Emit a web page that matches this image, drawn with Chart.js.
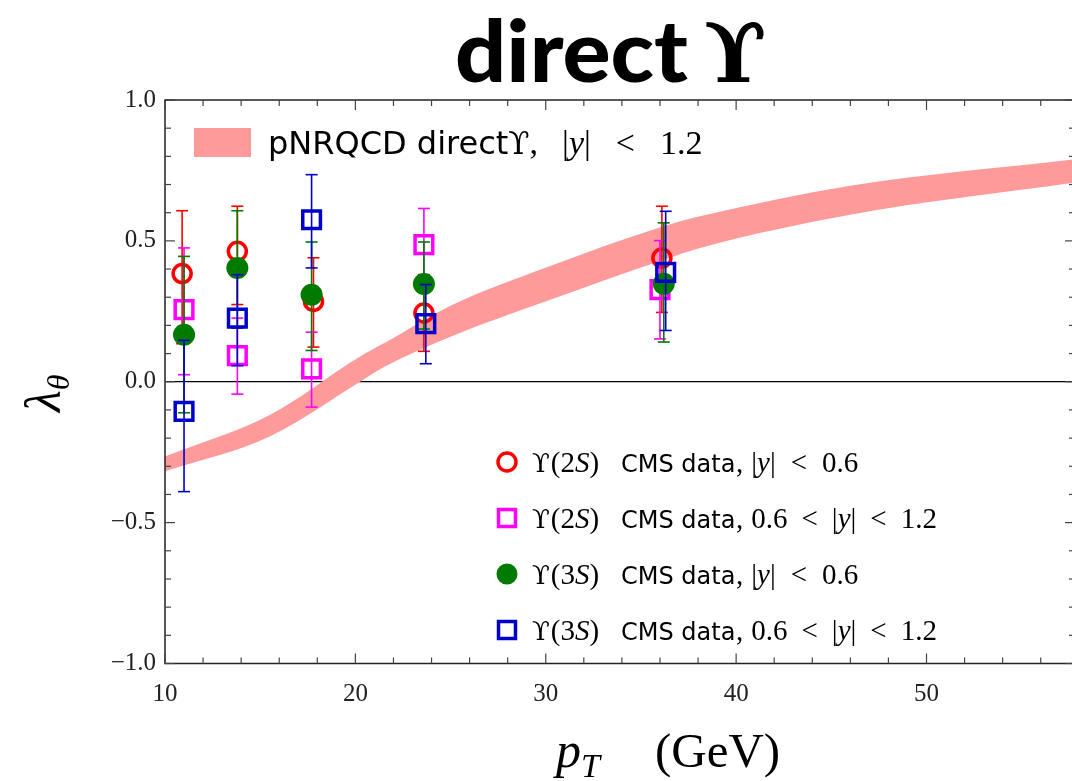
<!DOCTYPE html>
<html>
<head>
<meta charset="utf-8">
<title>direct Upsilon polarization</title>
<script src="https://cdn.jsdelivr.net/npm/chart.js@4.4.1/dist/chart.umd.min.js"></script>
<style>
  html, body { margin: 0; padding: 0; overflow: hidden; background: #fff; }
  #wrap { position: relative; width: 1100px; height: 781px; }
</style>
</head>
<body>
<div id="wrap"><canvas id="lambdaChart"></canvas></div>
<script>
// pNRQCD prediction band (lower / upper edge of lambda_theta vs pT)
const bandPt   = [10, 15.5, 20.25, 21.55, 25.0, 30.2, 36.2, 38.1, 46.0, 57.8];
const bandLow  = [-0.318, -0.194, 0.0, 0.054, 0.16, 0.29, 0.433, 0.475, 0.593, 0.707];
const bandHigh = [-0.265, -0.118, 0.09, 0.138, 0.27, 0.41, 0.552, 0.587, 0.696, 0.790];

// CMS Upsilon(2S), |y| < 0.6
const u2sCentralPt   = [10.9, 13.8, 17.8, 23.6, 36.1];
const u2sCentralLam  = [0.384, 0.463, 0.285, 0.244, 0.439];
const u2sCentralLow  = [0.135, 0.274, 0.123, 0.108, 0.246];
const u2sCentralHigh = [0.607, 0.623, 0.440, 0.380, 0.623];

// CMS Upsilon(2S), 0.6 < |y| < 1.2
const u2sForwardPt   = [11.0, 13.8, 17.7, 23.6, 36.0];
const u2sForwardLam  = [0.256, 0.093, 0.046, 0.487, 0.327];
const u2sForwardLow  = [0.025, -0.044, -0.090, 0.360, 0.152];
const u2sForwardHigh = [0.475, 0.226, 0.176, 0.615, 0.501];

// CMS Upsilon(3S), |y| < 0.6
const u3sCentralPt   = [11.0, 13.8, 17.7, 23.6, 36.2];
const u3sCentralLam  = [0.167, 0.404, 0.309, 0.347, 0.348];
const u3sCentralLow  = [-0.110, 0.190, 0.111, 0.187, 0.141];
const u3sCentralHigh = [0.445, 0.607, 0.496, 0.496, 0.564];

// CMS Upsilon(3S), 0.6 < |y| < 1.2
const u3sForwardPt   = [11.0, 13.8, 17.7, 23.7, 36.3];
const u3sForwardLam  = [-0.105, 0.226, 0.575, 0.206, 0.388];
const u3sForwardLow  = [-0.390, 0.057, 0.404, 0.064, 0.182];
const u3sForwardHigh = [0.147, 0.380, 0.735, 0.345, 0.605];

const yTickValues = [-1, -0.5, 0, 0.5, 1];
const xTickValues = [10, 20, 30, 40, 50];

const SERIF = '"Liberation Serif", "DejaVu Serif", serif';
const UPS = '"DejaVu Serif", serif';
const SANS = '"DejaVu Sans", "Noto Sans", sans-serif';
const BAND_COLOR = '#ff9a9a';

const toPoints = (xs, ys) => xs.map((x, i) => ({ x: x, y: ys[i] }));

const series = [
  { label: 'u2s-central', pt: u2sCentralPt, lam: u2sCentralLam, lo: u2sCentralLow, hi: u2sCentralHigh,
    color: '#ff0000', style: 'circle', radius: 9, width: 3.5, fill: 'rgba(0,0,0,0)', order: 4 },
  { label: 'u2s-forward', pt: u2sForwardPt, lam: u2sForwardLam, lo: u2sForwardLow, hi: u2sForwardHigh,
    color: '#ff00ff', style: 'rect', radius: 12.5, width: 3.5, fill: 'rgba(0,0,0,0)', order: 3 },
  { label: 'u3s-central', pt: u3sCentralPt, lam: u3sCentralLam, lo: u3sCentralLow, hi: u3sCentralHigh,
    color: '#007a00', style: 'circle', radius: 11, width: 0, fill: '#007a00', order: 2 },
  { label: 'u3s-forward', pt: u3sForwardPt, lam: u3sForwardLam, lo: u3sForwardLow, hi: u3sForwardHigh,
    color: '#0000cc', style: 'rect', radius: 12.5, width: 3.5, fill: 'rgba(0,0,0,0)', order: 1 }
];

const datasets = [
  {
    label: 'band-low', type: 'line', data: toPoints(bandPt, bandLow),
    borderWidth: 0, borderColor: 'rgba(0,0,0,0)', pointRadius: 0, fill: false,
    cubicInterpolationMode: 'monotone', order: 6
  },
  {
    label: 'band-high', type: 'line', data: toPoints(bandPt, bandHigh),
    borderWidth: 0, borderColor: 'rgba(0,0,0,0)', pointRadius: 0, fill: '-1',
    backgroundColor: BAND_COLOR, cubicInterpolationMode: 'monotone', order: 5
  }
].concat(series.map(s => ({
  label: s.label, type: 'scatter', data: toPoints(s.pt, s.lam),
  pointStyle: s.style, pointRadius: s.radius, pointBorderWidth: s.width,
  pointBorderColor: s.color, pointBackgroundColor: s.fill,
  errLow: s.lo, errHigh: s.hi, errColor: s.color, order: s.order
})));

function strokeLine(ctx, x1, y1, x2, y2) {
  ctx.beginPath();
  ctx.moveTo(x1, y1);
  ctx.lineTo(x2, y2);
  ctx.stroke();
}

// draws a run of text pieces with different fonts, returns end x
function drawRich(ctx, parts, x, y) {
  let cx = x;
  parts.forEach(p => {
    ctx.font = p.f;
    if (p.gap) cx += p.gap;
    ctx.fillText(p.t, cx, y + (p.dy || 0));
    cx += ctx.measureText(p.t).width;
  });
  return cx;
}

// vertical error bars with caps, painted just before each scatter dataset
const errorBars = {
  id: 'errorBars',
  beforeDatasetDraw(chart, args) {
    const ds = chart.data.datasets[args.index];
    if (!ds.errLow) return;
    const { ctx, scales: { x, y } } = chart;
    ctx.save();
    ctx.strokeStyle = ds.errColor;
    ctx.lineWidth = 1.6;
    ds.data.forEach((p, i) => {
      const px = x.getPixelForValue(p.x);
      const lo = y.getPixelForValue(ds.errLow[i]);
      const hi = y.getPixelForValue(ds.errHigh[i]);
      strokeLine(ctx, px, lo, px, hi);
      strokeLine(ctx, px - 6, lo, px + 6, lo);
      strokeLine(ctx, px - 6, hi, px + 6, hi);
    });
    ctx.restore();
  }
};

// box around the plot with inward major/minor ticks on all sides
const frameTicks = {
  id: 'frameTicks',
  afterDatasetsDraw(chart) {
    const { ctx, chartArea: a, scales: { x, y } } = chart;
    ctx.save();
    ctx.strokeStyle = '#222';
    ctx.lineWidth = 1.5;
    ctx.strokeRect(a.left, a.top, a.right - a.left, a.bottom - a.top);
    ctx.lineWidth = 1.2;
    ctx.strokeStyle = '#444';
    for (let v = 10; v <= x.max; v += 2) {
      const px = x.getPixelForValue(v);
      const len = v % 10 === 0 ? 10 : 6;
      strokeLine(ctx, px, a.bottom, px, a.bottom - len);
      strokeLine(ctx, px, a.top, px, a.top + len);
    }
    for (let k = -10; k <= 10; k++) {
      const py = y.getPixelForValue(k / 10);
      const len = k % 5 === 0 ? 10 : 6;
      strokeLine(ctx, a.left, py, a.left + len, py);
      strokeLine(ctx, a.right, py, a.right - len, py);
    }
    ctx.restore();
  }
};

// title, axis titles and both legends
const annotations = {
  id: 'annotations',
  afterDraw(chart) {
    const ctx = chart.ctx;
    ctx.save();
    ctx.fillStyle = '#000';
    ctx.textBaseline = 'alphabetic';
    ctx.textAlign = 'left';

    // title: heavy sans word stretched to its slot, then the upsilon
    ctx.save();
    ctx.font = `900 86px Lato, ${SANS}`;
    const wordWidth = ctx.measureText('direct').width;
    ctx.translate(455, 82);
    ctx.scale(233 / wordWidth, 1);
    ctx.fillText('direct', 0, 0);
    ctx.restore();
    ctx.font = `bold 82px ${UPS}`;
    ctx.fillText('\u03D2', 704, 82);

    // x axis title
    drawRich(ctx, [
      { t: 'p', f: `italic 50px ${SERIF}` },
      { t: 'T', f: `italic 34px ${SERIF}`, dy: 10 }
    ], 556, 767);
    ctx.font = `49px ${SERIF}`;
    ctx.fillText('(GeV)', 655, 767);

    // y axis title, rotated
    ctx.save();
    ctx.translate(60, 412);
    ctx.rotate(-Math.PI / 2);
    drawRich(ctx, [
      { t: '\u03BB', f: `italic 50px ${SERIF}` },
      { t: '\u03B8', f: `italic 32px ${SERIF}`, dy: 9 }
    ], 0, 0);
    ctx.restore();

    // band legend
    ctx.fillStyle = BAND_COLOR;
    ctx.fillRect(194, 128, 57, 29);
    ctx.fillStyle = '#000';
    drawRich(ctx, [
      { t: 'pNRQCD direct', f: `32px ${SANS}` },
      { t: '\u03D2', f: `31px ${UPS}` },
      { t: ',', f: `34px ${SERIF}` },
      { t: '|', f: `34px ${SERIF}`, gap: 24 },
      { t: 'y', f: `italic 34px ${SERIF}` },
      { t: '|', f: `34px ${SERIF}` },
      { t: '<', f: `34px ${SERIF}`, gap: 25 },
      { t: '1.2', f: `34px ${SERIF}`, gap: 25 }
    ], 268, 154);

    // data legend
    const rowsY = [462, 518, 574, 630];
    const states = ['2', '2', '3', '3'];
    const forward = [false, true, false, true];
    series.forEach((s, i) => {
      ctx.save();
      ctx.strokeStyle = s.color;
      ctx.fillStyle = s.fill;
      ctx.lineWidth = s.width;
      Chart.helpers.drawPoint(ctx, {
        pointStyle: s.style, radius: s.style === 'rect' ? 12 : (s.width ? 9 : 10.5),
        borderWidth: s.width, rotation: 0
      }, 507, rowsY[i]);
      ctx.restore();
      const f = `29px ${SERIF}`;
      const fi = `italic 29px ${SERIF}`;
      const yb = rowsY[i] + 10;
      drawRich(ctx, [
        { t: '\u03D2', f: `26px ${UPS}` },
        { t: '(', f: f, gap: 1 },
        { t: states[i], f: f },
        { t: 'S', f: fi },
        { t: ')', f: f }
      ], 532, yb);
      ctx.font = `24px ${SANS}`;
      ctx.fillText('CMS data', 621, yb);
      const range = forward[i]
        ? [{ t: ',', f: f }, { t: '0.6', f: f, gap: 8 }, { t: '<', f: f, gap: 14 }, { t: '|', f: f, gap: 14 },
           { t: 'y', f: fi }, { t: '|', f: f }, { t: '<', f: f, gap: 14 }, { t: '1.2', f: f, gap: 14 }]
        : [{ t: ',', f: f }, { t: '|', f: f, gap: 8 }, { t: 'y', f: fi }, { t: '|', f: f },
           { t: '<', f: f, gap: 15 }, { t: '0.6', f: f, gap: 15 }];
      drawRich(ctx, range, 736, yb);
    });
    ctx.restore();
  }
};

const fmt = v => (v < 0 ? '\u2212' : '') + Math.abs(v).toFixed(1);

new Chart(document.getElementById('lambdaChart'), {
  type: 'scatter',
  data: { datasets: datasets },
  options: {
    responsive: true,
    maintainAspectRatio: false,
    animation: false,
    events: [],
    layout: { padding: { top: 100, right: 25, left: 0, bottom: 0 } },
    plugins: { legend: { display: false }, tooltip: { enabled: false }, title: { display: false } },
    scales: {
      x: {
        type: 'linear', min: 10, max: 57.8,
        afterFit: s => { s.height = 781 - 663.5; },
        afterBuildTicks: s => { s.ticks = xTickValues.map(v => ({ value: v })); },
        grid: { display: false, drawTicks: false },
        border: { display: false },
        ticks: { padding: 16, color: '#222', font: { family: SERIF, size: 25 }, maxRotation: 0 }
      },
      y: {
        type: 'linear', min: -1, max: 1,
        afterFit: s => { s.width = 165; },
        afterBuildTicks: s => { s.ticks = yTickValues.map(v => ({ value: v })); },
        grid: {
          drawTicks: false,
          color: c => (c.tick && c.tick.value === 0 ? '#000' : 'rgba(0,0,0,0)'),
          lineWidth: 1.2
        },
        border: { display: false },
        ticks: { padding: 9, color: '#222', font: { family: SERIF, size: 25 }, callback: fmt }
      }
    }
  },
  plugins: [errorBars, frameTicks, annotations]
});
</script>
</body>
</html>
